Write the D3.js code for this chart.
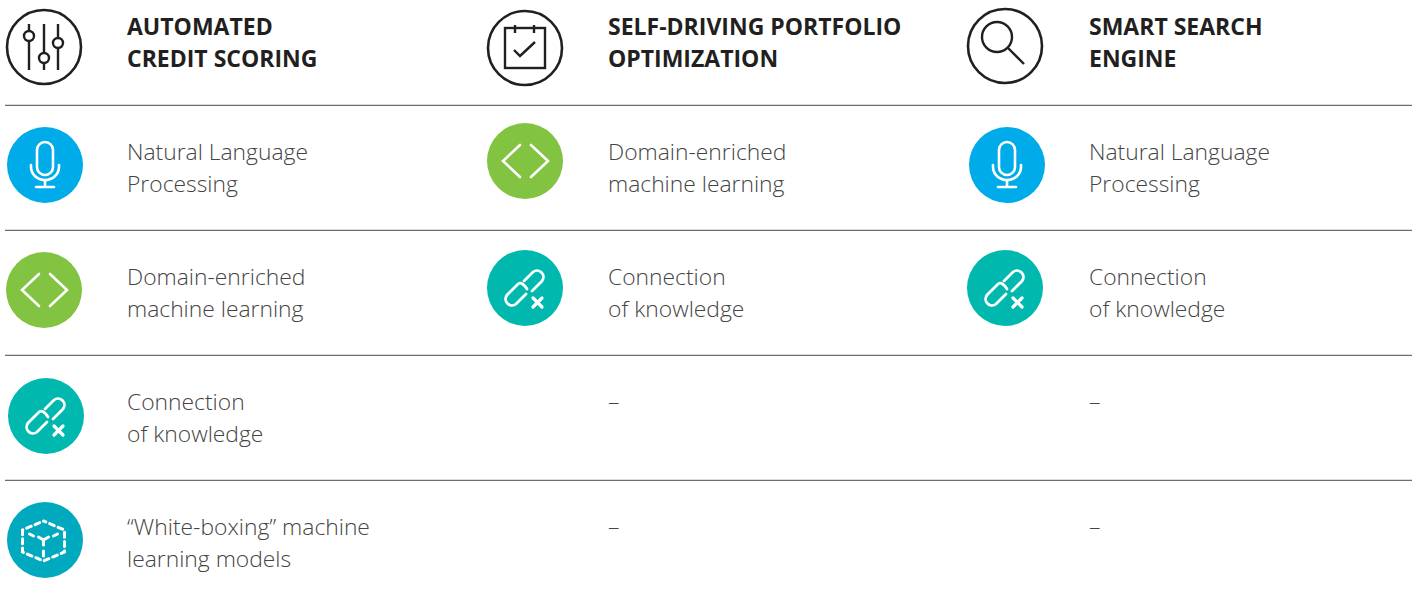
<!DOCTYPE html>
<html>
<head>
<meta charset="utf-8">
<script src="https://cdn.jsdelivr.net/npm/d3@7"></script>
<style>
  html, body { margin: 0; padding: 0; background: #fff; }
  text { font-family: "Open Sans", sans-serif; }
  .head { font-weight: 700; font-size: 23px; fill: #231f20; }
  .body { font-weight: 300; font-size: 22.85px; fill: #444; }
</style>
</head>
<body>
<div id="chart"></div>
<script>
// table content
var columnHeads = [
  ["AUTOMATED", "CREDIT SCORING"],
  ["SELF-DRIVING PORTFOLIO", "OPTIMIZATION"],
  ["SMART SEARCH", "ENGINE"]
];
var columnIcons = ["sliders", "calendar", "search"];

var rowIds = ["r1", "r2", "r3", "r4"];
var columnIds = ["c1", "c2", "c3"];

var techLabels = {
  nlp: ["Natural Language", "Processing"],
  domain: ["Domain-enriched", "machine learning"],
  link: ["Connection", "of knowledge"],
  box: ["\u201CWhite-boxing\u201D machine", "learning models"]
};

var col1 = ["nlp", "domain", "link", "box"];
var col2 = ["domain", "link", null, null];
var col3 = ["nlp", "link", null, null];

var techColors = { nlp: "#00abe9", domain: "#82c341", link: "#00b8ad", box: "#00a9bd" };

var width = 1416, height = 603;

var svg = d3.select("#chart").append("svg")
  .attr("width", width)
  .attr("height", height)
  .style("display", "block");

// columns and rows sit on a regular grid
var x = d3.scaleBand().domain(columnIds).range([127, 127 + 3 * 481]);
var y = d3.scaleBand().domain(rowIds).range([105, 605]);
var lineGap = 32;
var radius = 38;
var iconOffset = -83;

// the icons are not quite on the grid in the original, small per-cell shifts
var headNudge = [[0, 47], [0, 48], [-1, 46]];
var cellNudge = {
  "c1r1": [1, 0], "c2r1": [0, -4], "c3r1": [1, 0],
  "c1r2": [0, 0], "c2r2": [0, -2], "c3r2": [-1, -2],
  "c1r3": [2, 1], "c1r4": [1, 0]
};

// row separators
svg.selectAll("line.sep")
  .data(rowIds)
  .enter()
  .append("line")
    .attr("class", "sep")
    .attr("x1", 5)
    .attr("x2", 1412)
    .attr("y1", function(d) { return y(d) + 0.3; })
    .attr("y2", function(d) { return y(d) + 0.3; })
    .attr("stroke", "#6d6e71")
    .attr("stroke-width", 1.2);

// icon glyphs, drawn around 0,0
var glyphs = {
  sliders: function(g) {
    [[-15, -11], [0, 11], [14, -4]].forEach(function(p) {
      g.append("line").attr("x1", p[0]).attr("x2", p[0]).attr("y1", -23).attr("y2", 23);
      g.append("circle").attr("cx", p[0]).attr("cy", p[1]).attr("r", 5).attr("fill", "#fff");
    });
  },
  calendar: function(g) {
    g.append("rect").attr("x", -20).attr("y", -20).attr("width", 40).attr("height", 40);
    [-10, 9].forEach(function(p) {
      g.append("line").attr("x1", p).attr("x2", p).attr("y1", -23).attr("y2", -15);
    });
    g.append("path").attr("d", "M-11,2L-5,8L10,-6");
  },
  search: function(g) {
    g.append("circle").attr("cx", -8).attr("cy", -9).attr("r", 15);
    g.append("path").attr("d", "M3,2L19,18");
  },
  nlp: function(g) {
    g.append("rect").attr("x", -8).attr("y", -23).attr("width", 16).attr("height", 33).attr("rx", 8);
    g.append("path").attr("d", "M-14,0V2A14,13 0 0 0 14,2V0M0,15V22M-9,22H9");
  },
  domain: function(g) {
    g.append("path").attr("d", "M-5,-16L-22,0L-5,16M6,-16L23,0L6,16");
  },
  link: function(g) {
    g.attr("stroke-width", 2.8);
    // two open links hooked into each other
    g.append("path").attr("d", "M-1,-7L8,-16A6.4,6.4 0 0 1 17,-7L7,3");
    g.append("path").attr("d", "M2,1Q-3,-7 -7,-4L-18,7A6.4,6.4 0 0 0 -9,16L1,6");
    g.append("path").attr("stroke-width", 3.2).attr("d", "M8,10L17,19M17,10L8,19");
  },
  box: function(g) {
    g.attr("stroke-width", 3).attr("transform", "translate(-1.5,0)");
    g.append("path").attr("stroke-dasharray", "5,4.2").attr("stroke-dashoffset", 2.5)
      .attr("d", "M0,-19L21,-10V12L0,21L-21,12V-10Z");
    g.append("path").attr("d", "M-5,-3L0,0L5,-3M0,0V5");
    g.append("path").attr("d", "M-14,-6L-10,-4M14,-6L10,-4M0,11V16");
  }
};

function drawIcon(cx, cy, name, fill) {
  var g = svg.append("g").attr("transform", "translate(" + cx + "," + cy + ")");
  if (fill) {
    g.append("circle").attr("r", radius).attr("fill", fill);
  } else {
    g.append("circle").attr("r", radius - 1).attr("fill", "none")
      .attr("stroke", "#231f20").attr("stroke-width", 2.6);
  }
  var glyph = g.append("g")
    .attr("fill", "none")
    .attr("stroke", fill ? "#fff" : "#231f20")
    .attr("stroke-width", fill ? 2.6 : 2.4)
    .attr("stroke-linecap", fill ? "round" : "butt");
  glyphs[name](glyph);
}

function drawLines(tx, ty, lines, cls) {
  svg.append("text")
    .attr("class", cls)
    .selectAll("tspan")
    .data(lines)
    .enter()
    .append("tspan")
      .attr("x", tx)
      .attr("y", function(d, i) { return ty + i * lineGap; })
      .text(function(d) { return d; });
}

// header row
columnIds.forEach(function(c, i) {
  drawIcon(x(c) + iconOffset + headNudge[i][0], headNudge[i][1], columnIcons[i]);
  drawLines(x(c), 35, columnHeads[i], "head");
});

// body cells
[col1, col2, col3].forEach(function(col, i) {
  var c = columnIds[i];
  col.forEach(function(tech, j) {
    var r = rowIds[j];
    var base = y(r) + 55;
    if (tech === null) {
      drawLines(x(c), base, ["\u2013"], "body");
      return;
    }
    var n = cellNudge[c + r];
    drawIcon(x(c) + iconOffset + n[0], y(r) + 60 + n[1], tech, techColors[tech]);
    drawLines(x(c), base, techLabels[tech], "body");
  });
});
</script>
</body>
</html>
